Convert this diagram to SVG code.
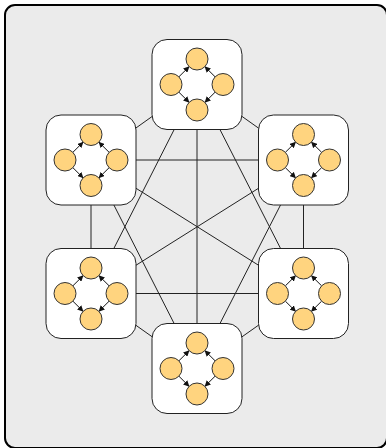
<svg xmlns="http://www.w3.org/2000/svg" xmlns:xlink="http://www.w3.org/1999/xlink" width="386" height="448" viewBox="0 0 386 448">
<style>
.frame{fill:#ebebeb;stroke:#000;stroke-width:2}
.box{fill:#fff;stroke:#222;stroke-width:1}
.dot{fill:#ffd47f;stroke:#333;stroke-width:1}
.edge{stroke:#222;stroke-width:1;fill:none}
.arr{stroke:#111;stroke-width:1;fill:none;marker-end:url(#ah)}
</style>
<defs>
<marker id="ah" markerUnits="userSpaceOnUse" markerWidth="6" markerHeight="6" refX="5.5" refY="3" orient="auto">
<path d="M0,0 L6,3 L0,6 z" fill="#111"/>
</marker>
<g id="cluster">
<rect class="box" x="-45" y="-45" width="90" height="90" rx="15"/>
<line class="arr" x1="-18.1" y1="-7.7" x2="-7.9" y2="-17.8"/>
<line class="arr" x1="18.1" y1="-7.7" x2="7.9" y2="-17.8"/>
<line class="arr" x1="-18.1" y1="7.7" x2="-7.9" y2="17.8"/>
<line class="arr" x1="18.1" y1="7.7" x2="7.9" y2="17.8"/>
<circle class="dot" cx="0" cy="-25.5" r="11"/>
<circle class="dot" cx="-26" cy="0" r="11"/>
<circle class="dot" cx="26" cy="0" r="11"/>
<circle class="dot" cx="0" cy="25.5" r="11"/>
</g>
</defs>
<rect class="frame" x="5" y="5" width="382" height="443" rx="10"/>
<g id="connectors">
<line class="edge" x1="197" y1="84.5" x2="91" y2="160"/>
<line class="edge" x1="197" y1="84.5" x2="303.5" y2="160"/>
<line class="edge" x1="197" y1="84.5" x2="91" y2="293.5"/>
<line class="edge" x1="197" y1="84.5" x2="303.5" y2="293.5"/>
<line class="edge" x1="197" y1="84.5" x2="197" y2="368.5"/>
<line class="edge" x1="91" y1="160" x2="303.5" y2="160"/>
<line class="edge" x1="91" y1="160" x2="91" y2="293.5"/>
<line class="edge" x1="91" y1="160" x2="303.5" y2="293.5"/>
<line class="edge" x1="91" y1="160" x2="197" y2="368.5"/>
<line class="edge" x1="303.5" y1="160" x2="91" y2="293.5"/>
<line class="edge" x1="303.5" y1="160" x2="303.5" y2="293.5"/>
<line class="edge" x1="303.5" y1="160" x2="197" y2="368.5"/>
<line class="edge" x1="91" y1="293.5" x2="303.5" y2="293.5"/>
<line class="edge" x1="91" y1="293.5" x2="197" y2="368.5"/>
<line class="edge" x1="303.5" y1="293.5" x2="197" y2="368.5"/>
</g>
<g id="node-top" transform="translate(197,84.5)"><use xlink:href="#cluster"/></g>
<g id="node-upper-left" transform="translate(91,160)"><use xlink:href="#cluster"/></g>
<g id="node-upper-right" transform="translate(303.5,160)"><use xlink:href="#cluster"/></g>
<g id="node-lower-left" transform="translate(91,293.5)"><use xlink:href="#cluster"/></g>
<g id="node-lower-right" transform="translate(303.5,293.5)"><use xlink:href="#cluster"/></g>
<g id="node-bottom" transform="translate(197,368.5)"><use xlink:href="#cluster"/></g>
</svg>
